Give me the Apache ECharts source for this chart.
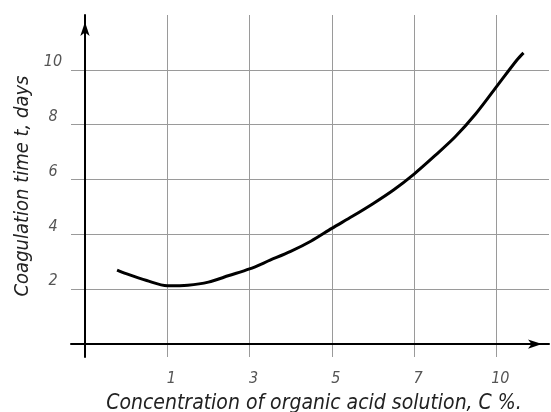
<!DOCTYPE html>
<html>
<head>
<meta charset="utf-8">
<script src="https://cdn.jsdelivr.net/npm/echarts@6/dist/echarts.min.js"></script>
<style>html,body{margin:0;padding:0;background:#fff}#c{width:551px;height:412px}</style>
</head>
<body>
<div id="c"></div>
<script>
// x positions are equally spaced grid positions; tick labels below
var xTickLabels = ['1', '3', '5', '7', '10'];
var yTickValues = [2, 4, 6, 8, 10];
var curveX = [0.39, 0.5, 0.75, 1.0, 1.25, 1.5, 1.75, 2.0, 2.25, 2.5, 2.75, 3.0, 3.25, 3.5, 3.75, 4.0, 4.25, 4.5, 4.75, 5.0, 5.25, 5.33];
var curveY = [2.70, 2.57, 2.32, 2.13, 2.15, 2.26, 2.50, 2.74, 3.06, 3.38, 3.76, 4.22, 4.66, 5.12, 5.62, 6.20, 6.86, 7.56, 8.40, 9.38, 10.36, 10.62];
var xTitle = 'Concentration of organic acid solution, C %.';
var yTitle = 'Coagulation time t, days';

var FONT = "'DejaVu Sans Condensed', 'Liberation Sans Narrow', 'Liberation Sans', sans-serif";
var data = curveX.map(function (x, i) { return [x, curveY[i]]; });
var chart = echarts.init(document.getElementById('c'), null, {renderer: 'canvas'});
chart.setOption({
  animation: false,
  backgroundColor: '#fff',
  grid: {left: 71, right: 2, top: 15, bottom: 55, containLabel: false, outerBoundsMode: 'none'},
  xAxis: {
    type: 'value', min: -0.17, max: 5.64,
    axisLine: {onZero: true, lineStyle: {color: '#000', width: 2}, symbol: ['none', 'arrow'], symbolSize: [7, 14], symbolOffset: [0, -7]},
    axisTick: {show: false},
    splitLine: {show: true, showMinLine: false, showMaxLine: false, lineStyle: {color: '#9a9a9a', width: 1}},
    axisLabel: {
      margin: 14, color: '#555', fontFamily: FONT, fontStyle: 'italic', fontSize: 16, padding: [0, 0, 0, 8],
      showMinLabel: false, showMaxLabel: false,
      formatter: function (v) {
        var i = Math.round(v);
        return (Math.abs(v - i) < 1e-6 && i >= 1 && i <= xTickLabels.length) ? xTickLabels[i - 1] : '';
      }
    },
    name: xTitle, nameLocation: 'middle', nameGap: 36,
    nameTextStyle: {color: '#222', fontFamily: FONT, fontStyle: 'italic', fontSize: 21, padding: [0, 0, 0, 8]}
  },
  yAxis: {
    type: 'value', min: -0.47, max: 12,
    axisLine: {onZero: true, lineStyle: {color: '#000', width: 2}, symbol: ['none', 'arrow'], symbolSize: [7, 14], symbolOffset: [0, -7]},
    axisTick: {show: false},
    splitLine: {show: true, showMinLine: false, showMaxLine: false, lineStyle: {color: '#9a9a9a', width: 1}},
    axisLabel: {
      margin: 18, align: 'center', verticalAlign: 'bottom', color: '#555', fontFamily: FONT, fontStyle: 'italic', fontSize: 16,
      showMinLabel: false, showMaxLabel: false,
      formatter: function (v) { return yTickValues.indexOf(v) >= 0 ? String(v) : ''; }
    },
    name: yTitle, nameLocation: 'middle', nameGap: 38,
    nameTextStyle: {color: '#222', fontFamily: FONT, fontStyle: 'italic', fontSize: 20}
  },
  series: [{
    type: 'line', data: data, smooth: 0.3, showSymbol: false,
    lineStyle: {color: '#000', width: 3}
  }]
});
</script>
</body>
</html>
